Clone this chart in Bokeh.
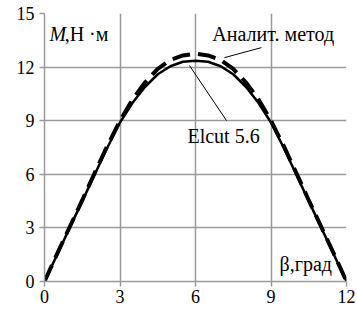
from bokeh.plotting import figure
from bokeh.models import Label, Range1d, FixedTicker, Segment, ColumnDataSource
from bokeh.embed import file_html
from bokeh.resources import INLINE

beta = [0, 0.5, 1, 1.5, 2, 2.5, 3, 3.5, 4, 4.5, 5, 5.5, 6,
        6.5, 7, 7.5, 8, 8.5, 9, 9.5, 10, 10.5, 11, 11.5, 12]
m_elcut = [0, 1.5, 3.0, 4.5, 6.0, 7.5, 8.9, 10.0, 10.9, 11.6, 12.05, 12.3, 12.35,
           12.3, 12.05, 11.6, 10.9, 10.0, 8.9, 7.5, 6.0, 4.5, 3.0, 1.5, 0]
m_analyt = [0, 1.55, 3.05, 4.55, 6.1, 7.6, 9.0, 10.2, 11.15, 11.9, 12.4, 12.65, 12.75,
            12.65, 12.4, 11.9, 11.15, 10.2, 9.0, 7.6, 6.1, 4.55, 3.05, 1.55, 0]
x_ticks = [0, 3, 6, 9, 12]
y_ticks = [0, 3, 6, 9, 12, 15]

FONT = "Liberation Serif"
GRID = "#9a9a9a"

p = figure(width=356, height=320, output_backend="svg", toolbar_location=None,
           x_range=Range1d(0, 12), y_range=Range1d(0, 15),
           min_border_left=44, min_border_right=10, min_border_top=13, min_border_bottom=39)
p.outline_line_color = None
p.background_fill_color = "white"
p.border_fill_color = "white"

for ax in (p.xaxis[0], p.yaxis[0]):
    ax.axis_line_color = GRID
    ax.axis_line_width = 1.5
    ax.major_tick_line_color = GRID
    ax.major_tick_line_width = 1.5
    ax.major_tick_in = 0
    ax.major_tick_out = 5
    ax.minor_tick_line_color = None
    ax.major_label_text_font = FONT
    ax.major_label_text_font_size = "18px"
    ax.major_label_text_color = "black"
p.xaxis.ticker = FixedTicker(ticks=x_ticks)
p.yaxis.ticker = FixedTicker(ticks=y_ticks)
p.xaxis.major_label_standoff = 3
p.yaxis.major_label_standoff = 5

p.xgrid.ticker = FixedTicker(ticks=x_ticks)
p.ygrid.ticker = FixedTicker(ticks=y_ticks)
for g in (p.xgrid[0], p.ygrid[0]):
    g.grid_line_color = GRID
    g.grid_line_width = 1.5

p.line(beta, m_analyt, line_color="black", line_width=4, line_dash="18 8")
p.line(beta, m_elcut, line_color="black", line_width=2.5)

lead = ColumnDataSource(dict(x0=[7.15, 5.76], y0=[12.53, 12.09], x1=[8.62, 7.23], y1=[13.09, 9.01]))
p.add_glyph(lead, Segment(x0="x0", y0="y0", x1="x1", y1="y1", line_color="black", line_width=1))

def lab(x, y, t, style="normal", size="20px"):
    l = Label(x=x, y=y, text=t, text_font=FONT, text_font_size=size, text_color="black",
              text_baseline="middle", text_align="left", text_font_style=style,
              background_fill_color=None)
    p.add_layout(l)

lab(6.67, 13.88, "Аналит. метод")
lab(5.68, 8.17, "Elcut 5.6")
lab(0.2, 13.88, "M", "italic")
lab(0.8, 13.88, ",Н ·м")
lab(9.34, 1.0, "β,град")

open("out.html", "w").write(file_html(p, INLINE))
